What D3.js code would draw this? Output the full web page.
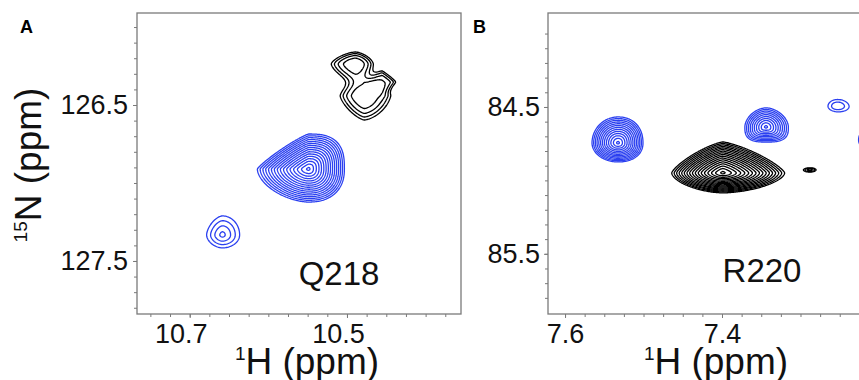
<!DOCTYPE html>
<html>
<head>
<meta charset="utf-8">
<script src="https://cdn.jsdelivr.net/npm/d3@7"></script>
<style>
  body { margin: 0; background: #fff; }
  svg { display: block; font-family: "Liberation Sans", Arial, Helvetica, sans-serif; }
</style>
</head>
<body>
<div id="chart"></div>
<script>
// contour levels: base level times a constant factor (as in the NMR software)
const levelFactor = 1.3;
const levelCount = 18;
const levels = d3.range(levelCount).map(k => Math.pow(levelFactor, k));

// ---- panel A (Q218) ----
const hDomainA = [10.767, 10.355];
const nDomainA = [125.91, 127.84];
const hMajorA = [10.7, 10.5];
const hMinorA = [10.75, 10.725, 10.7, 10.675, 10.65, 10.625, 10.6, 10.575, 10.55, 10.525,
                 10.5, 10.475, 10.45, 10.425, 10.4, 10.375];
const nMajorA = [126.5, 127.5];
const nMinorA = [126.0, 126.1, 126.2, 126.3, 126.4, 126.5, 126.6, 126.7, 126.8, 126.9, 127.0,
                 127.1, 127.2, 127.3, 127.4, 127.5, 127.6, 127.7, 127.8];

// peaks: centre (h, n), extent of the lowest contour on each side (ppm),
// number of contour levels, radial exponent p, corner shape q [UL, UR, LR, LL]
const bluePeaksA = [
  { h: 10.549, n: 126.91, left: 0.0647, right: 0.0457, up: 0.224, down: 0.212, levels: 15.3, p: 1.25, q: [1.15, 2.8, 2.3, 1.7] },
  { h: 10.6585, n: 127.333, left: 0.020, right: 0.022, up: 0.122, down: 0.083, levels: 3.4, p: 1.2, q: [1.6, 2, 2, 1.8] }
];
const blackPeaksA = [
  { h: 10.4895, n: 126.237, left: 0.0305, right: 0.0228, up: 0.077, down: 0.108, levels: 3.8, p: 2.2, q: [1.5, 1.6, 1.6, 1.5] },
  { h: 10.478, n: 126.442, left: 0.0305, right: 0.033, up: 0.104, down: 0.154, levels: 3.95, p: 2.2, q: [1.5, 1.3, 1.6, 1.4] },
  { h: 10.4552, n: 126.3526, left: 0.0152, right: 0.0165, up: 0.0641, down: 0.0577, levels: 2.4, p: 2.5, q: [1.2, 1.2, 1.2, 1.2] }
];

// ---- panel B (R220) ----
const hDomainB = [7.6217, 7.1987];
const nDomainB = [83.86, 85.91];
const hMajorB = [7.6, 7.4];
const hMinorB = [7.6, 7.575, 7.55, 7.525, 7.5, 7.475, 7.45, 7.425, 7.4, 7.375, 7.35, 7.325,
                 7.3, 7.275, 7.25, 7.225, 7.2];
const nMajorB = [84.5, 85.5];
const nMinorB = [84.0, 84.1, 84.2, 84.3, 84.4, 84.5, 84.6, 84.7, 84.8, 84.9, 85.0,
                 85.1, 85.2, 85.3, 85.4, 85.5, 85.6, 85.7, 85.8];

const bluePeaksB = [
  { h: 7.5325, n: 84.745, left: 0.0331, right: 0.0318, up: 0.1769, down: 0.1293, levels: 12.3, p: 1.3, q: [2, 2.2, 2.2, 2] },
  { h: 7.344, n: 84.636, left: 0.0268, right: 0.028, up: 0.1293, down: 0.102, levels: 9.3, p: 1.3, q: [1.8, 1.8, 3, 3] },
  { h: 7.2535, n: 84.493, left: 0.0089, right: 0.0102, up: 0.034, down: 0.0272, levels: 1.05, p: 2, q: [2, 2, 2, 2] },
  { h: 7.193, n: 84.7245, left: 0.033, right: 0.03, up: 0.1224, down: 0.102, levels: 2.3, p: 1.3, q: [2, 2, 2, 2] }
];
const blackPeaksB = [
  { h: 7.3991, n: 84.949, left: 0.065, right: 0.079, up: 0.211, down: 0.136, levels: 16.3, p: 1.3, q: [1.3, 1.3, 1.7, 1.7] },
  { h: 7.2879, n: 84.9286, left: 0.0076, right: 0.0076, up: 0.0136, down: 0.0136, levels: 2.3, p: 2, q: [2, 2, 2, 2] }
];

const blue = "#2b40f0";
const black = "#000";

const width = 859, height = 380;
const svg = d3.select("#chart").append("svg")
    .attr("width", width)
    .attr("height", height);

function peakValue(pk, h, n) {
  const dx = h - pk.h;   // > 0 : left of the centre (higher ppm)
  const dy = n - pk.n;   // > 0 : below the centre
  const sx = dx > 0 ? pk.left : pk.right;
  const sy = dy > 0 ? pk.down : pk.up;
  const q = pk.q[dy < 0 ? (dx > 0 ? 0 : 1) : (dx > 0 ? 3 : 2)];
  const r = Math.pow(Math.pow(Math.abs(dx) / sx, q) + Math.pow(Math.abs(dy) / sy, q), 1 / q);
  return Math.pow(levelFactor, pk.levels * (1 - Math.pow(r, pk.p)));
}

function drawPanel(cfg) {
  const f = cfg.frame;
  const x = d3.scaleLinear().domain(cfg.hDomain).range([f.x, f.x + f.w]);
  const y = d3.scaleLinear().domain(cfg.nDomain).range([f.y, f.y + f.h]);

  const g = svg.append("g");

  g.append("clipPath").attr("id", "clip" + cfg.id)
    .append("rect").attr("x", f.x).attr("y", f.y).attr("width", f.w).attr("height", f.h);

  // contours
  const nx = Math.round(f.w), ny = Math.round(f.h);
  const h0 = cfg.hDomain[0], dh = (cfg.hDomain[1] - cfg.hDomain[0]) / nx;
  const n0 = cfg.nDomain[0], dn = (cfg.nDomain[1] - cfg.nDomain[0]) / ny;
  const proj = d3.geoTransform({
    point: function(gx, gy) { this.stream.point(x(h0 + gx * dh), y(n0 + gy * dn)); }
  });
  const path = d3.geoPath(proj);

  cfg.spectra.forEach(sp => {
    const values = new Float64Array(nx * ny);
    for (let j = 0; j < ny; j++) {
      const n = n0 + (j + 0.5) * dn;
      for (let i = 0; i < nx; i++) {
        const h = h0 + (i + 0.5) * dh;
        let v = 0;
        sp.peaks.forEach(pk => { v += peakValue(pk, h, n); });
        values[j * nx + i] = v;
      }
    }
    const contours = d3.contours().size([nx, ny]).thresholds(levels)(values);
    g.append("g")
      .attr("clip-path", "url(#clip" + cfg.id + ")")
      .selectAll("path")
      .data(contours)
      .join("path")
      .attr("d", path)
      .attr("fill", "none")
      .attr("stroke", sp.color)
      .attr("stroke-width", 1.3)
      .attr("stroke-linejoin", "round");
  });

  // frame
  g.append("rect")
    .attr("x", f.x).attr("y", f.y).attr("width", f.w).attr("height", f.h)
    .attr("fill", "none").attr("stroke", "#7a7a7a").attr("stroke-width", 1.3);

  // axes
  const styleAxis = sel => {
    sel.select(".domain").remove();
    sel.selectAll("line").attr("stroke", "#7a7a7a").attr("stroke-width", 1);
    sel.attr("font-family", null).attr("font-size", null);
  };
  g.append("g").attr("transform", `translate(0,${f.y + f.h})`)
    .call(d3.axisBottom(x).tickValues(cfg.hMinor).tickSize(3).tickFormat(""))
    .call(styleAxis);
  g.append("g").attr("transform", `translate(0,${f.y + f.h})`)
    .call(d3.axisBottom(x).tickValues(cfg.hMajor).tickSize(4).tickPadding(6).tickFormat(d3.format(".1f")))
    .call(styleAxis)
    .selectAll("text")
    .attr("dx", cfg.hLabelShift)
    .attr("fill", "#111")
    .style("font-size", "27px");
  g.append("g").attr("transform", `translate(${f.x},0)`)
    .call(d3.axisLeft(y).tickValues(cfg.nMinor).tickSize(3).tickFormat(""))
    .call(styleAxis);
  g.append("g").attr("transform", `translate(${f.x},0)`)
    .call(d3.axisLeft(y).tickValues(cfg.nMajor).tickSize(4).tickPadding(cfg.yPad).tickFormat(d3.format(".1f")))
    .call(styleAxis)
    .selectAll("text")
    .attr("fill", "#111")
    .style("font-size", "27px");

  // x title
  const xt = g.append("text")
    .attr("x", cfg.xTitleX).attr("y", 374)
    .attr("text-anchor", "middle")
    .attr("fill", "#111");
  xt.append("tspan").style("font-size", "19px").attr("dy", -14).text("1");
  xt.append("tspan").style("font-size", "37px").attr("dy", 14).text("H (ppm)");

  // panel letter and residue
  g.append("text").attr("x", cfg.letterX).attr("y", 33)
    .style("font-size", "18px").style("font-weight", "bold").text(cfg.letter);
  g.append("text").attr("x", cfg.nameX).attr("y", cfg.nameY)
    .attr("text-anchor", "middle").attr("fill", "#111")
    .style("font-size", "33px").text(cfg.name);
}

drawPanel({
  id: "A", frame: { x: 137, y: 13, w: 324, h: 301 },
  hDomain: hDomainA, nDomain: nDomainA,
  hMajor: hMajorA, hMinor: hMinorA, nMajor: nMajorA, nMinor: nMinorA,
  hLabelShift: -9, yPad: 5, xTitleX: 307,
  letter: "A", letterX: 20, name: "Q218", nameX: 339, nameY: 285,
  spectra: [{ peaks: bluePeaksA, color: blue }, { peaks: blackPeaksA, color: black }]
});

drawPanel({
  id: "B", frame: { x: 548, y: 13, w: 332, h: 301 },
  hDomain: hDomainB, nDomain: nDomainB,
  hMajor: hMajorB, hMinor: hMinorB, nMajor: nMajorB, nMinor: nMinorB,
  hLabelShift: 0, yPad: 4, xTitleX: 716,
  letter: "B", letterX: 473, name: "R220", nameX: 762, nameY: 282,
  spectra: [{ peaks: bluePeaksB, color: blue }, { peaks: blackPeaksB, color: black }]
});

// y title of panel A
const yt = svg.append("text")
  .attr("transform", "translate(41,165) rotate(-90)")
  .attr("text-anchor", "middle")
  .attr("fill", "#111");
yt.append("tspan").style("font-size", "19px").attr("dy", -14).text("15");
yt.append("tspan").style("font-size", "37px").attr("dy", 14).text("N (ppm)");
</script>
</body>
</html>
